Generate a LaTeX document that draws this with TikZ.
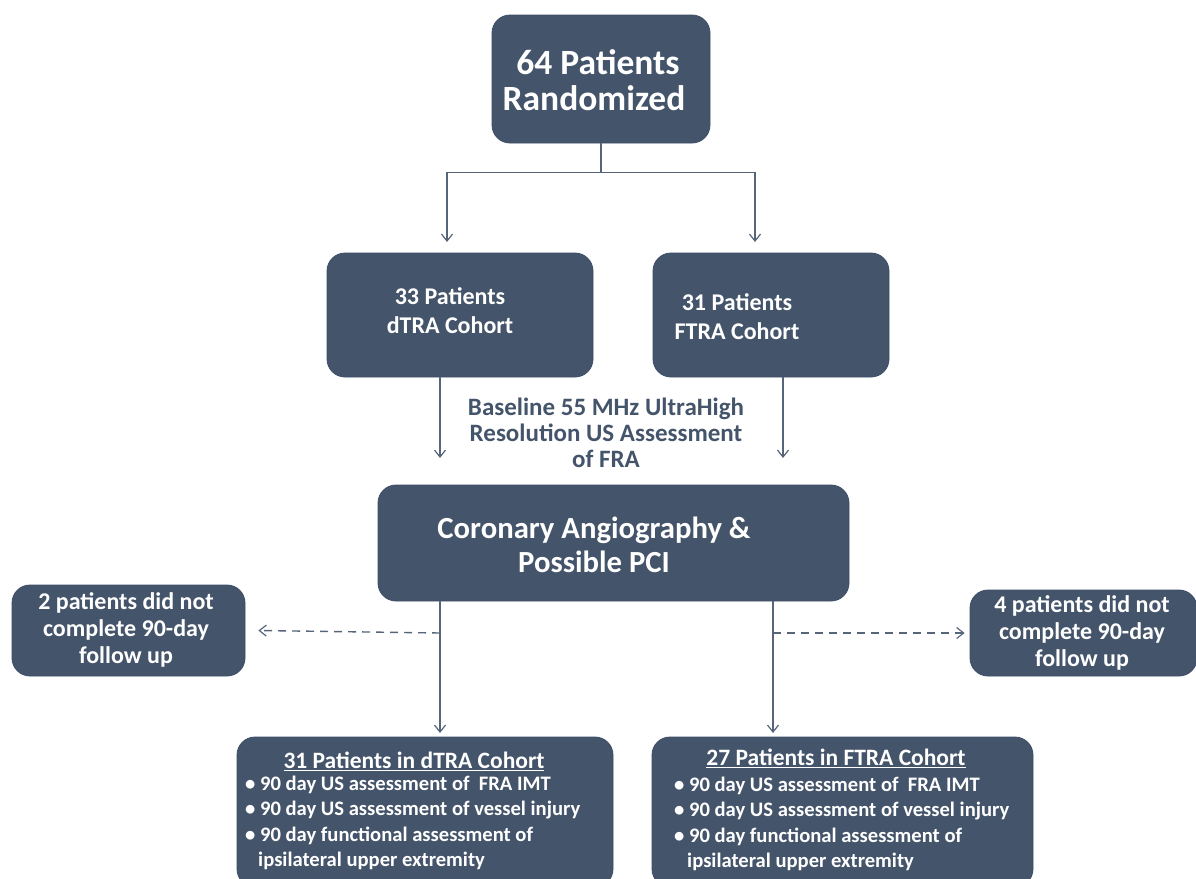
\documentclass[tikz,border=0pt]{standalone}
\usepackage{fontspec}
\setmainfont{Carlito}
\usetikzlibrary{arrows.meta,calc}
\definecolor{boxfill}{HTML}{44546A}
\definecolor{boxline}{HTML}{3B4C66}
\definecolor{linec}{HTML}{56657A}
\tikzset{
  box/.style={draw=boxline,line width=0.8pt,fill=boxfill,rounded corners=18pt,inner sep=0pt},
  txt/.style={text=white,font=\bfseries,align=center,inner sep=0pt},
  arr/.style={draw=linec,line width=1.4pt,-{Straight Barb[length=7pt,width=11pt,line width=1.2pt]}},
  darr/.style={arr,dash pattern=on 8pt off 6pt},
}
\begin{document}
\begin{tikzpicture}[x=1pt,y=-1pt]
\useasboundingbox (0,0) rectangle (1196,878);
\clip (0,0) rectangle (1196,878);
% boxes
\node[box,minimum width=218pt,minimum height=128pt] (top) at (601,79) {};
\node[box,minimum width=266pt,minimum height=124pt] (dtra) at (460,315) {};
\node[box,minimum width=236pt,minimum height=124pt] (ftra) at (771,315) {};
\node[box,minimum width=471pt,minimum height=116pt] (cor) at (613.5,543) {};
\node[box,minimum width=233pt,minimum height=91pt] (lost2) at (128.5,630.5) {};
\node[box,minimum width=227pt,minimum height=86pt] (lost4) at (1083.5,633) {};
\node[box,minimum width=376pt,minimum height=150pt] (res1) at (425,812) {};
\node[box,minimum width=381pt,minimum height=150pt] (res2) at (842.5,812) {};
% texts
\node[txt,font=\bfseries\fontsize{35.5}{36}\selectfont] (toptext) at (594,80) {\hspace*{8pt}64 Patients\\Randomized};
\node[txt,font=\bfseries\fontsize{24}{29}\selectfont] (dtratext) at (450,311) {33 Patients\\dTRA Cohort};
\node[txt,font=\bfseries\fontsize{24}{29}\selectfont] (ftratext) at (737,317) {31 Patients\\FTRA Cohort};
\node[txt,font=\bfseries\fontsize{30.7}{34}\selectfont] (cortext) at (594,545) {Coronary Angiography \&\\Possible PCI};
\node[txt,font=\bfseries\fontsize{24}{27}\selectfont] (lost2text) at (126,630) {2 patients did not\\complete 90-day\\follow up};
\node[txt,font=\bfseries\fontsize{24}{27}\selectfont] (lost4text) at (1082,633) {4 patients did not\\complete 90-day\\follow up};
\node[txt,text=boxfill,font=\bfseries\fontsize{25}{26}\selectfont] (base) at (606,433) {Baseline 55 MHz UltraHigh\\Resolution US Assessment\\of FRA};
\node[txt,font=\bfseries\fontsize{23.5}{24}\selectfont] (res1head) at (414,761) {\underline{31 Patients in dTRA Cohort}};
\node[txt,align=left,anchor=north west,font=\bfseries\fontsize{20.6}{25.3}\selectfont] (res1text) at (245,776) {\textbullet\ 90 day US assessment of\ \ FRA IMT\\\textbullet\ 90 day US assessment of vessel injury\\\textbullet\ 90 day functional assessment of\\\hspace*{13pt}ipsilateral upper extremity};
\node[txt,font=\bfseries\fontsize{23.5}{24}\selectfont] (res2head) at (836,758) {\underline{27 Patients in FTRA Cohort}};
\node[txt,align=left,anchor=north west,font=\bfseries\fontsize{20.6}{25.3}\selectfont] (res2text) at (674,777) {\textbullet\ 90 day US assessment of\ \ FRA IMT\\\textbullet\ 90 day US assessment of vessel injury\\\textbullet\ 90 day functional assessment of\\\hspace*{13pt}ipsilateral upper extremity};
% connector end points
\coordinate (t1) at (447,242);
\coordinate (t2) at (755,242);
\coordinate (b1) at (440,458);
\coordinate (b2) at (783,458);
\coordinate (c1) at (440,733);
\coordinate (c2) at (773,733);
\coordinate (d1) at (440,633);
\coordinate (d2) at (773,633);
% connectors
\draw[arr] (top.south) -- ++(0,29) -| (t1);
\draw[arr] (top.south) -- ++(0,29) -| (t2);
\draw[arr] (dtra.south -| b1) -- (b1);
\draw[arr] (ftra.south -| b2) -- (b2);
\draw[arr] (cor.south -| c1) -- (c1);
\draw[arr] (cor.south -| c2) -- (c2);
\draw[darr] (d1) -- ($(lost2.east)+(13,0)$);
\draw[darr] (d2) -- ($(lost4.west)+(-5,0)$);
\end{tikzpicture}
\end{document}
